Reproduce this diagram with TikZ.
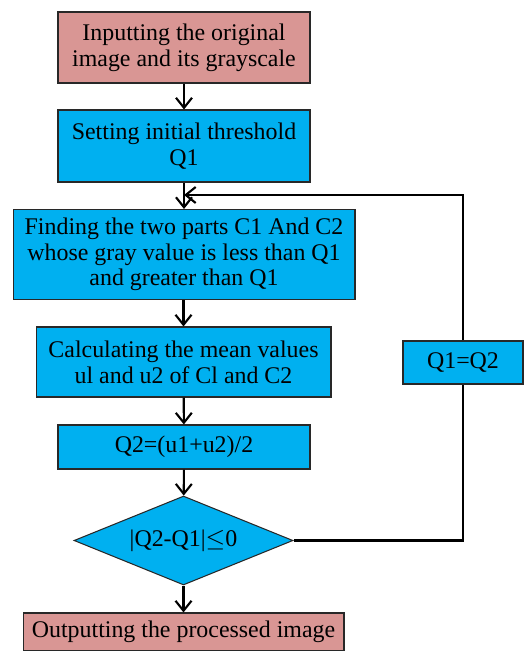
\documentclass[tikz,border=0pt]{standalone}
\usepackage{fontspec}
\setmainfont{Liberation Serif}
\usepackage{amsmath,amssymb}
\usetikzlibrary{positioning,arrows.meta,shapes.geometric}
\definecolor{celeste}{RGB}{0,176,240}
\definecolor{rosado}{RGB}{217,150,148}
\definecolor{borde}{RGB}{40,40,40}

\begin{document}
\begin{tikzpicture}[x=0.02cm, y=-0.02cm,
  caja/.style={rectangle, draw=borde, line width=0.6pt, align=center,
    inner sep=1pt, font=\fontsize{13.6}{14.6}\selectfont},
  proc/.style={caja, fill=celeste},
  borne/.style={caja, fill=rosado},
  decision/.style={caja, diamond, shape aspect=2.46, fill=celeste, inner sep=0pt},
  flecha/.style={line width=1.2pt, -{Straight Barb[length=2mm,width=3.2mm]}},
  linea/.style={line width=1.2pt},
]
\useasboundingbox (0,0) rectangle (524,651);
\node[borne, minimum width=5.04cm, minimum height=1.42cm] (entrada) at (184,47.5)
  {Inputting the original\\image and its grayscale};
\node[proc, minimum width=5.04cm, minimum height=1.44cm] (umbral) at (184,146)
  {Setting initial threshold\\Q1};
\node[proc, minimum width=6.84cm, minimum height=1.8cm] (partes) at (184,254.5)
  {Finding the two parts C1 And C2\\whose gray value is less than Q1\\and greater than Q1};
\node[proc, minimum width=5.9cm, minimum height=1.4cm] (medias) at (183.5,362)
  {Calculating the mean values\\ul and u2 of Cl and C2};
\node[proc, minimum width=5.04cm, minimum height=0.88cm] (nuevo) at (184,447)
  {Q2=(u1+u2)/2};
\node[decision, minimum width=4.38cm, minimum height=1.78cm] (prueba) at (183.5,540.5)
  {|Q2-Q1|$\leq$0};
\node[borne, minimum width=6.42cm, minimum height=0.76cm] (salida) at (183.5,632)
  {Outputting the processed image};
\node[proc, minimum width=2.4cm, minimum height=0.86cm] (cambio) at (463,362.5)
  {Q1=Q2};
\coordinate (union) at (184,195);
\coordinate (esquina) at (463,540.5);

\foreach \a/\b in {entrada/umbral, medias/nuevo, nuevo/prueba, prueba/salida}
  \draw[flecha] (\a) -- (\b);
\draw[flecha] (umbral.south) -- (partes.north -| umbral.south);
\draw[flecha] (partes.south -| medias.north) -- (medias.north);
\draw[linea] (prueba.east) -- (esquina) -- (cambio.south);
\draw[flecha] (cambio.north) |- (union);
\end{tikzpicture}
\end{document}
